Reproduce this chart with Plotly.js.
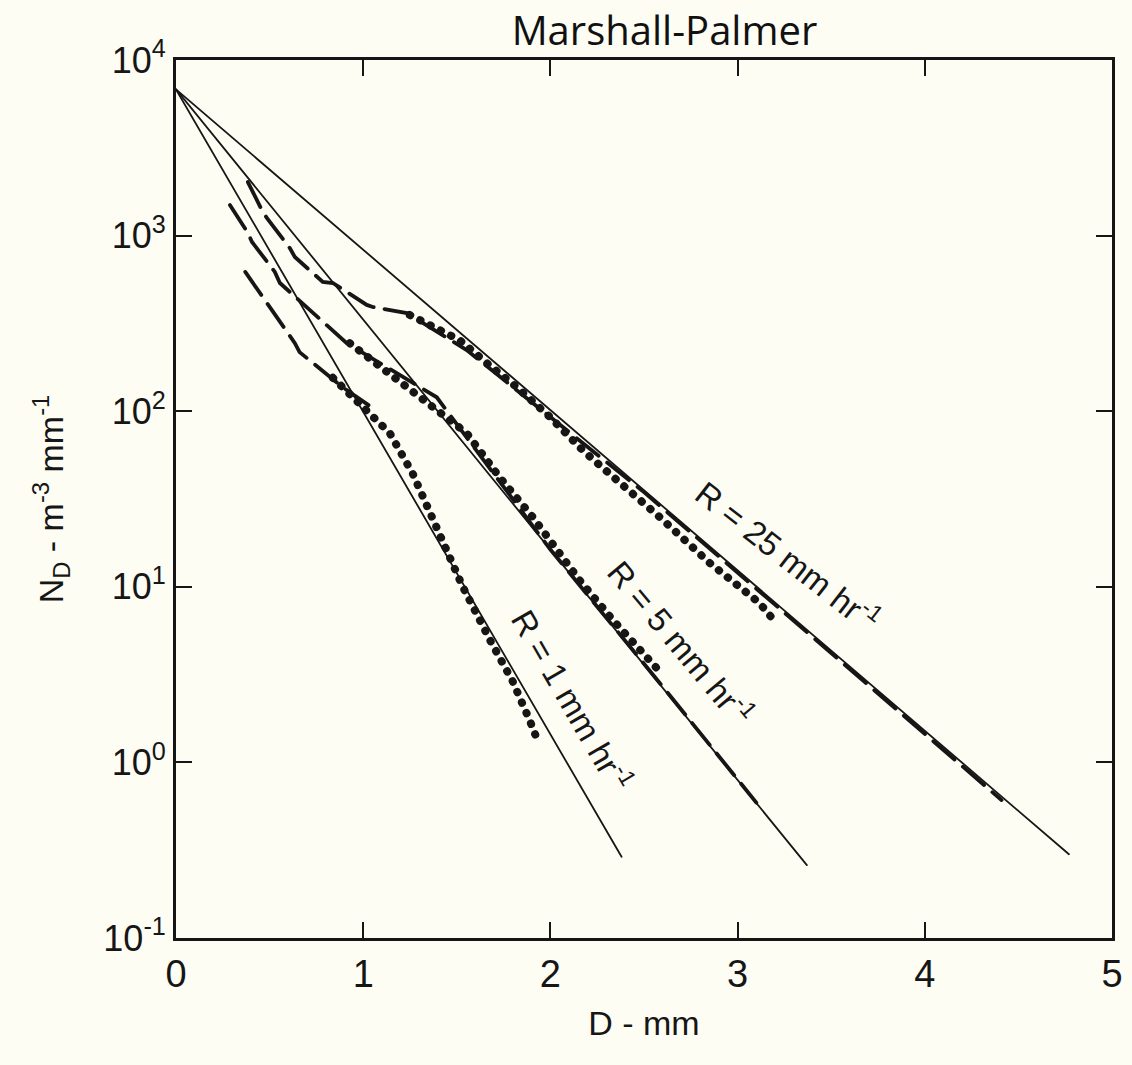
<!DOCTYPE html>
<html>
<head>
<meta charset="utf-8">
<script src="https://cdn.plot.ly/plotly-3.0.1.min.js"></script>
<style>
html,body{margin:0;padding:0;background:#fdfdf4;}
#chart{width:1132px;height:1065px;}
.scatterlayer .js-line{stroke-linecap:round;}
</style>
</head>
<body>
<div id="chart"></div>
<script>
// Marshall-Palmer exponential fits (straight lines on the semi-log plot)
const mp1_D = [0, 2.38];   const mp1_N = [6800, 0.29];
const mp5_D = [0, 3.37];   const mp5_N = [6800, 0.26];
const mp25_D = [0, 4.77];  const mp25_N = [6800, 0.30];

// Dashed curves (observed distributions)
const dash1_D = [0.37, 0.49, 0.635, 0.66, 0.89, 1.03];
const dash1_N = [621, 403, 244, 217, 137, 108];

const dash5_D = [0.288, 0.384, 0.406, 0.528, 0.555, 0.875, 0.912, 1.089, 1.393, 2.0, 2.6, 3.10];
const dash5_N = [1493, 1035, 920, 621, 537, 265, 244, 188, 120, 16.3, 2.7, 0.59];

const dash25_D = [0.384, 0.464, 0.486, 0.608, 0.635, 0.784, 0.838, 1.019, 1.051, 1.233, 1.553, 2.5, 3.5, 4.41];
const dash25_N = [2018, 1361, 1259, 849, 755, 545, 537, 403, 392, 362, 223, 34.6, 4.2, 0.61];

// Dotted curves (observed distributions)
const dot1_D = [0.838, 0.982, 1.142, 1.265, 1.371, 1.532, 1.676, 1.798, 1.889, 1.926];
const dot1_N = [155, 111, 75, 44, 24, 10, 5.0, 2.9, 1.74, 1.38];

const dot5_D = [0.928, 1.211, 1.553, 1.729, 1.905, 2.156, 2.332, 2.567];
const dot5_N = [244, 145, 75, 42, 25, 10.9, 6.5, 3.45];

const dot25_D = [1.249, 1.515, 1.660, 1.820, 1.996, 2.172, 2.316, 2.583, 2.850, 3.116, 3.186];
const dot25_N = [353, 254, 188, 137, 93, 60, 44, 25, 13.7, 8.1, 6.6];

// Axis ticks
const xTickVals = [0, 1, 2, 3, 4, 5];
const xTickText = ['0', '1', '2', '3', '4', '5'];
const yTickVals = [0.1, 1, 10, 100, 1000, 10000];
const yTickText = ['10<sup>-1</sup>', '10<sup>0</sup>', '10<sup>1</sup>', '10<sup>2</sup>', '10<sup>3</sup>', '10<sup>4</sup>'];

// Curve labels
const labelText = ['R = 25 mm hr<sup>-1</sup>', 'R = 5 mm hr<sup>-1</sup>', 'R = 1 mm hr<sup>-1</sup>'];
const labelD = [3.27, 2.70, 2.12];
const labelN = [15.2, 4.85, 2.26];
const labelAngle = [38, 50, 60];

const ink = '#161616';
const FONT = 'Liberation Sans, Arial, sans-serif';

function solid(x, y) {
  return {x: x, y: y, mode: 'lines', type: 'scatter', hoverinfo: 'skip',
          line: {color: ink, width: 1.8}};
}
function dashed(x, y) {
  return {x: x, y: y, mode: 'lines', type: 'scatter', hoverinfo: 'skip',
          line: {color: ink, width: 3.8, dash: '28px,11px'}};
}
function dotted(x, y) {
  return {x: x, y: y, mode: 'lines', type: 'scatter', hoverinfo: 'skip',
          line: {color: ink, width: 8, dash: '0.5px,11px'}};
}

const data = [
  solid(mp1_D, mp1_N), solid(mp5_D, mp5_N), solid(mp25_D, mp25_N),
  dashed(dash1_D, dash1_N), dashed(dash5_D, dash5_N), dashed(dash25_D, dash25_N),
  dotted(dot1_D, dot1_N), dotted(dot5_D, dot5_N), dotted(dot25_D, dot25_N)
];

const annotations = labelText.map((t, i) => ({
  x: labelD[i], y: Math.log10(labelN[i]), xref: 'x', yref: 'y',
  text: t, showarrow: false, textangle: labelAngle[i],
  font: {family: FONT, size: 33, color: ink},
  xanchor: 'center', yanchor: 'middle'
}));

const layout = {
  width: 1132, height: 1065,
  paper_bgcolor: '#fdfdf4', plot_bgcolor: '#fdfdf4',
  margin: {l: 176, r: 20, t: 60, b: 127},
  showlegend: false,
  title: {text: 'Marshall-Palmer', font: {family: 'Open Sans, sans-serif', size: 40, color: '#111'},
          x: 0.587, xanchor: 'center', xref: 'container', y: 0.971, yanchor: 'middle', yref: 'container'},
  xaxis: {
    range: [0, 5], tickmode: 'array', tickvals: xTickVals, ticktext: xTickText,
    ticks: 'inside', ticklen: 16, tickwidth: 2, tickcolor: ink,
    showline: true, linewidth: 3, linecolor: ink, mirror: 'ticks',
    showgrid: false, zeroline: false,
    tickfont: {family: FONT, size: 38, color: ink},
    title: {text: 'D - mm', font: {family: FONT, size: 34, color: ink}, standoff: 18}
  },
  yaxis: {
    type: 'log', range: [-1, 4], tickmode: 'array', tickvals: yTickVals, ticktext: yTickText,
    ticks: 'inside', ticklen: 16, tickwidth: 2, tickcolor: ink,
    showline: true, linewidth: 3, linecolor: ink, mirror: 'ticks',
    showgrid: false, zeroline: false,
    tickfont: {family: FONT, size: 36, color: ink},
    title: {text: 'N<sub>D</sub> - m<sup>-3</sup> mm<sup>-1</sup>', font: {family: FONT, size: 34, color: ink}, standoff: 30}
  },
  annotations: annotations
};

Plotly.newPlot('chart', data, layout, {displayModeBar: false, staticPlot: true});
</script>
</body>
</html>
